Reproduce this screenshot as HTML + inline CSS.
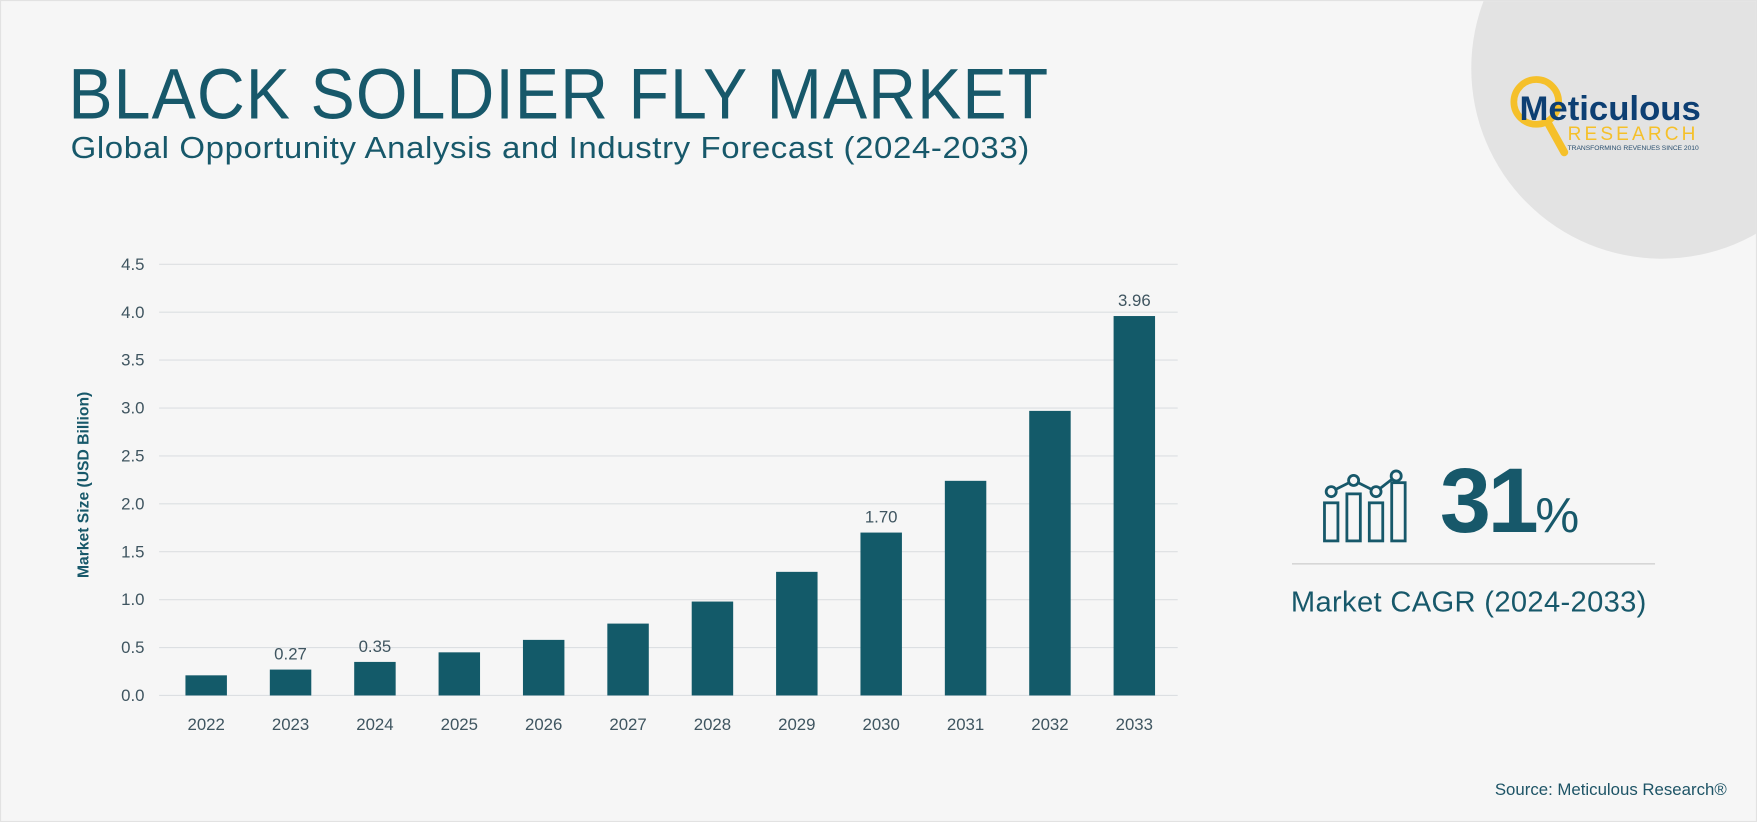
<!DOCTYPE html>
<html><head><meta charset="utf-8"><style>
html,body{margin:0;padding:0;background:#f6f6f6;overflow:hidden}
#wrap{position:absolute;left:0;top:0;width:1568px;height:734px;transform:scale(1.12054,1.11989);transform-origin:0 0;background:#f6f6f6;font-family:"Liberation Sans",sans-serif;overflow:hidden;border:1px solid #e2e2e2;box-sizing:border-box}
.t{position:absolute;white-space:nowrap;color:#17586a}
</style></head><body>
<div id="wrap">
<div style="position:absolute;left:1312px;top:-110px;width:340px;height:340px;border-radius:50%;background:#e3e3e3"></div>
<div class="t" style="left:60px;top:46px;font-size:64px;letter-spacing:1px;transform:scaleX(0.925);transform-origin:0 0">BLACK SOLDIER FLY MARKET</div>
<div class="t" style="left:62px;top:116px;font-size:27px;letter-spacing:0.5px;transform:scaleX(1.09);transform-origin:0 0">Global Opportunity Analysis and Industry Forecast (2024-2033)</div>
<svg style="position:absolute;left:1340px;top:60px" width="210" height="100">
<circle cx="30" cy="30" r="20" fill="none" stroke="#f5c02a" stroke-width="6"/>
<line x1="40" y1="48" x2="55" y2="75" stroke="#f5c02a" stroke-width="7" stroke-linecap="round"/>
<text x="15" y="46" font-family="Liberation Sans" font-weight="bold" font-size="31" fill="#0d3f73">Meticulous</text>
<text x="58" y="64" font-family="Liberation Sans" font-size="17" letter-spacing="4" fill="#f5c02a" textLength="118">RESEARCH</text>
<text x="58" y="73" font-family="Liberation Sans" font-size="6" fill="#2a4f6f" textLength="117">TRANSFORMING REVENUES SINCE 2010</text>
</svg>
<svg id="chart" style="position:absolute;left:0;top:0" width="1100" height="700"></svg>
<svg style="position:absolute;left:1178px;top:418px" width="80" height="72" fill="none" stroke="#17586a" stroke-width="2.5">
<rect x="3" y="30" width="12" height="34"/><rect x="23" y="22" width="12" height="42"/><rect x="43" y="30" width="12" height="34"/><rect x="63" y="12" width="12" height="52"/>
<polyline points="9,20 29,10 49,20 67,6"/>
<circle cx="9" cy="20" r="4.5" fill="#f6f6f6"/><circle cx="29" cy="10" r="4.5" fill="#f6f6f6"/><circle cx="49" cy="20" r="4.5" fill="#f6f6f6"/><circle cx="67" cy="6" r="4.5" fill="#f6f6f6"/>
</svg>
<div class="t" style="left:1284px;top:400px;font-size:82px;font-weight:bold;letter-spacing:-3px">31<span style="font-size:44px;font-weight:normal;letter-spacing:0">%</span></div>
<div style="position:absolute;left:1152px;top:502px;width:324px;height:1px;background:#c8c8c8"></div>
<div class="t" style="left:1151px;top:521px;font-size:26px;letter-spacing:0.3px">Market CAGR (2024-2033)</div>
<div class="t" style="right:26px;top:696px;font-size:15px;color:#1e5466">Source: Meticulous Research®</div>
</div>
<script>
const categories=["2022","2023","2024","2025","2026","2027","2028","2029","2030","2031","2032","2033"];
const values=[0.21,0.27,0.35,0.45,0.58,0.75,0.98,1.29,1.70,2.24,2.97,3.96];
const labelled=[false,true,true,false,false,false,false,false,true,false,false,true];
const yTicks=[0,0.5,1,1.5,2,2.5,3,3.5,4,4.5];
const NS="http://www.w3.org/2000/svg";
const svg=document.getElementById('chart');
const x0=141,x1=1050,yBase=620,yTop=235,yMax=4.5;
const y=v=>yBase-(v/yMax)*(yBase-yTop);
const step=75.3,first=183,bw=37;
const x=i=>first+i*step;
function mk(tag,attrs,txt){const e=document.createElementNS(NS,tag);for(const k in attrs)e.setAttribute(k,attrs[k]);if(txt!==undefined)e.textContent=txt;svg.appendChild(e);return e;}
yTicks.forEach(t=>{
  const l=mk('line',{x1:x0,x2:x1,y1:y(t),y2:y(t),stroke:'#dcdfe2','stroke-width':1});
  
  
  const tx=mk('text',{x:128,y:y(t)+5,'text-anchor':'end','font-size':15,fill:'#3f5560','font-family':'Liberation Sans'},t.toFixed(1));
  
  
});
categories.forEach((c,i)=>{
  const r=mk('rect',{x:x(i)-bw/2,y:y(values[i]),width:bw,height:yBase-y(values[i]),fill:'#135a69'});
  
  
  const tl=mk('text',{x:x(i),y:651,'text-anchor':'middle','font-size':15,fill:'#3f5560','font-family':'Liberation Sans'},c);
  
  
  if(labelled[i]){
    const v=mk('text',{x:x(i),y:y(values[i])-9,'text-anchor':'middle','font-size':15,fill:'#3f5560','font-family':'Liberation Sans'},values[i].toFixed(2));
    
    
  }
});
const at=mk('text',{x:0,y:0,transform:'translate(78,432) rotate(-90)','text-anchor':'middle','font-size':14,'font-weight':'bold',fill:'#17586a','font-family':'Liberation Sans'},'Market  Size  (USD Billion)');


</script>
</body></html>
